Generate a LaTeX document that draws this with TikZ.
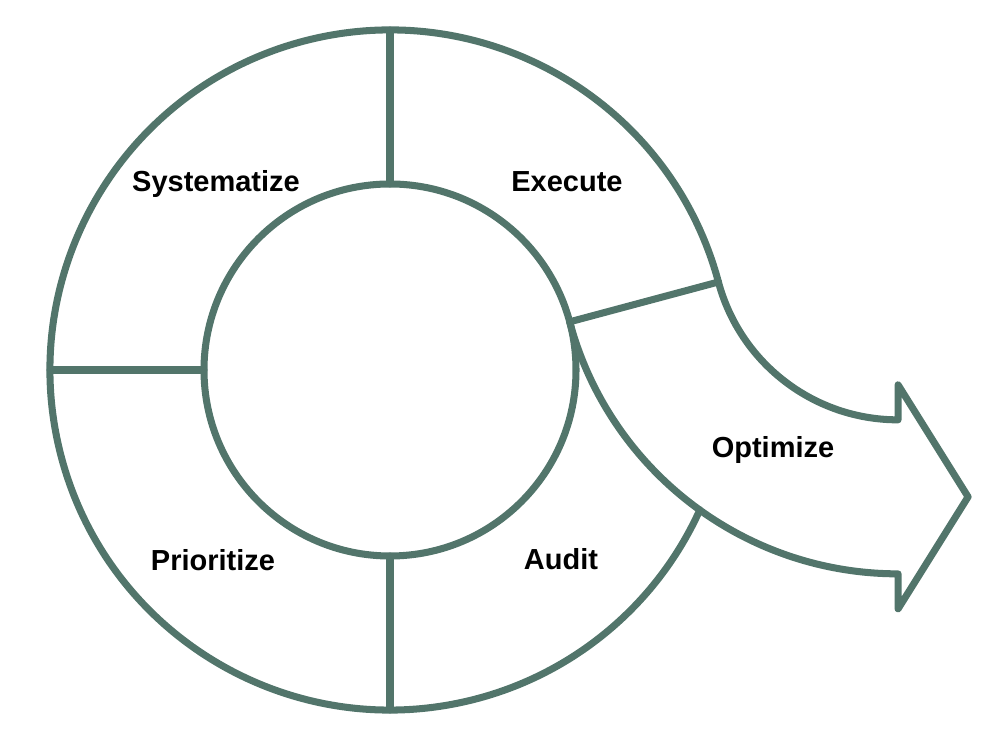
\documentclass[tikz,border=0pt]{standalone}
\usepackage{fontspec}
\setmainfont{Liberation Sans}
\definecolor{ringgreen}{RGB}{82,117,107}
\begin{document}
\begin{tikzpicture}[x=0.2mm,y=0.2mm,
    ring/.style={draw=ringgreen,line width=4pt,line join=round,line cap=round},
    phase/.style={font=\fontsize{16.5}{20}\selectfont\bfseries,anchor=base}]
    \useasboundingbox (0,0) rectangle (1000,739);
    %% centres
    \coordinate (O) at (390,369);
    \path (O) ++(15:526) coordinate (A);
    %% ring
    \draw[ring] (O) circle (186);
    \draw[ring] (O) ++(15:340) arc[start angle=15,end angle=335.7,radius=340];
    \foreach \a in {15,90,180,270}
        \draw[ring] (O) ++(\a:186) -- ++(\a:154);
    %% arrow
    \draw[ring] (A) ++(195:186) arc[start angle=195,end angle=270,radius=186]
        -- ++(0,35) -- ++(70,-112) -- ++(-70,-112) -- ++(0,35)
        arc[start angle=270,end angle=195,radius=340];
    %% labels
    \node[phase] (sys) at (216,547.5) {Systematize};
    \node[phase] (exe) at (567,547.5) {Execute};
    \node[phase] (pri) at (213,168) {Prioritize};
    \node[phase] (aud) at (561,169) {Audit};
    \node[phase] (opt) at (773,281) {Optimize};
\end{tikzpicture}
\end{document}
